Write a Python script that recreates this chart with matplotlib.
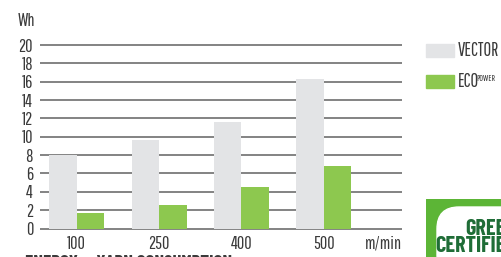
import matplotlib.pyplot as plt
import numpy as np
from matplotlib.patches import Rectangle, FancyBboxPatch

# data
speeds = ["100", "250", "400", "500"]
vector_wh = [8.0, 9.7, 11.6, 16.3]
eco_wh = [1.7, 2.6, 4.5, 6.8]
yticks = [0, 2, 4, 6, 8, 10, 12, 14, 16, 18, 20]

GREY = "#e3e4e6"
GREEN = "#8dc84f"
TXT = "#3a3a3a"
FONT = ["Pathway Gothic One", "DejaVu Sans"]
BOLD = ["Barlow Condensed", "DejaVu Sans"]

W, H = 501, 257
plt.rcParams['font.family'] = FONT

fig = plt.figure(figsize=(W / 100, H / 100), dpi=100)

def fx(px):
    return px / W

def fy(py):
    return 1 - py / H

# axes: 0 at y=228.5px, 20 at y=45px
ax_top, ax_bot = 41, 232
ppu = (228.5 - 45) / 20
ylo = -(ax_bot - 228.5) / ppu
yhi = 20 + (45 - ax_top) / ppu
ax = fig.add_axes([fx(40), fy(ax_bot), fx(402) - fx(40), (ax_bot - ax_top) / H])

x = np.arange(len(speeds))
bw = 0.334
ax.bar(x - bw / 2, vector_wh, bw, color=GREY, zorder=3)
ax.bar(x + bw / 2, eco_wh, bw, color=GREEN, zorder=3)

ax.set_ylim(ylo, yhi)
ax.set_xlim(-0.446, 3.95)
ax.set_yticks(yticks)
ax.set_xticks(x)
ax.set_xticklabels(speeds)
ax.yaxis.grid(True, color="#7a7a7a", linewidth=1.3, zorder=1)
ax.set_axisbelow(True)
for s in ax.spines.values():
    s.set_visible(False)
ax.tick_params(length=0, labelsize=13, labelcolor=TXT)
ax.tick_params(axis="y", pad=5)
ax.tick_params(axis="x", pad=3)

ax.text(3.95, -0.75, "m/min", ha="right", va="top", fontsize=13, color=TXT,
        transform=ax.transData)
fig.text(fx(18), fy(21), "Wh", ha="left", va="center", fontsize=13, color=TXT)

# legend drawn by hand
legend_items = [(GREY, "VECTOR"), (GREEN, "ECO")]
for i, (c, lab) in enumerate(legend_items):
    ytop = 44 + i * 31
    fig.add_artist(Rectangle((fx(426), fy(ytop + 12.5)), fx(28), 12.5 / H,
                             color=c, transform=fig.transFigure))
    fig.text(fx(458), fy(ytop + 6.5), lab, ha="left", va="center",
             fontsize=13.5, color=TXT)
fig.text(fx(476.5), fy(74), "POWER", ha="left", va="top", fontsize=6.5, color=TXT)

# title cut off at the bottom
fig.text(fx(25), fy(254.5), "ENERGY \u2014 YARN CONSUMPTION", ha="left", va="top",
         fontsize=13.5, fontweight="bold", color=TXT, family=BOLD)

# green certified badge
lax = fig.add_axes([fx(426), 0, fx(501) - fx(426), 58 / H])
lax.set_xlim(426, 501)
lax.set_ylim(257, 199)
lax.axis("off")
lax.add_patch(Rectangle((426, 199), 75, 58, color="#5cb536"))
lax.add_patch(FancyBboxPatch((437, 207), 90, 70,
                             boxstyle="round,pad=0,rounding_size=22",
                             color="white"))
lax.text(465, 229, "GREEN", ha="left", va="center", fontsize=16,
         fontweight="bold", color="#1f6d37", family=BOLD)
lax.text(435, 246, "CERTIFIED", ha="left", va="center", fontsize=16,
         fontweight="bold", color="#1f6d37", family=BOLD)

fig.savefig("out.png", dpi=100, facecolor="white")
